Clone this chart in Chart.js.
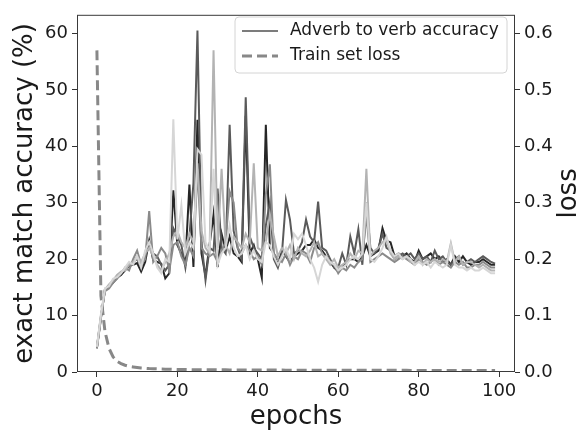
<!DOCTYPE html>
<html>
<head>
<meta charset="utf-8">
<script src="https://cdn.jsdelivr.net/npm/chart.js@4/dist/chart.umd.min.js"></script>
<style>
  html, body { margin: 0; padding: 0; background: #fff; }
  #chart { display: block; }
</style>
</head>
<body>
<canvas id="chart" width="583" height="430"></canvas>
<script>
'use strict';

// epochs 0..99
var epochs = [];
for (var e = 0; e < 100; e++) { epochs.push(e); }

var xTicks = [0, 20, 40, 60, 80, 100];
var accTicks = [0, 10, 20, 30, 40, 50, 60];
var lossTicks = [0.0, 0.1, 0.2, 0.3, 0.4, 0.5, 0.6];

// five runs of adverb-to-verb accuracy, lightest run first
var runA = [
  4.5, 10.2, 14.8, 15.2, 16.5, 16.8, 17.5, 18.5, 19.5, 19.0, 20.5, 18.5, 21.5, 23.0, 21.0, 18.5, 17.5, 20.0, 19.5, 44.8,
  23.5, 29.5, 21.0, 23.0, 22.0, 39.5, 38.5, 23.0, 21.5, 36.0, 19.0, 21.0, 22.0, 26.0, 22.0, 20.5, 21.0, 22.5, 20.0, 21.5,
  20.0, 19.5, 23.0, 22.5, 20.5, 19.0, 20.5, 22.0, 20.0, 24.5, 23.5, 24.5, 22.5, 20.0, 18.5, 16.0, 19.0, 20.5, 19.5, 19.0,
  18.0, 18.5, 19.0, 20.0, 20.5, 20.0, 21.0, 30.0, 20.0, 19.5, 20.5, 22.0, 24.0, 21.5, 20.5, 21.0, 20.0, 20.5, 20.0, 19.0,
  19.5, 19.0, 19.5, 18.5, 19.5, 19.0, 18.5, 19.0, 22.5, 19.0, 18.5, 18.5, 18.0, 18.5, 18.0, 18.0, 18.5, 18.0, 17.5, 17.5
];
var runB = [
  4.3, 9.6, 14.6, 15.5, 16.2, 17.2, 17.8, 18.0, 19.0, 19.5, 20.5, 19.5, 21.0, 22.0, 20.5, 19.0, 18.0, 19.5, 21.0, 24.0,
  25.0, 23.0, 22.0, 24.5, 23.0, 37.0, 25.0, 22.0, 21.0, 57.0, 22.0, 36.0, 22.5, 21.0, 24.0, 23.0, 22.0, 24.5, 23.0, 37.0,
  22.0, 21.5, 23.0, 28.0, 24.0, 20.5, 22.0, 21.0, 22.5, 20.0, 22.0, 21.0, 20.5, 21.5, 23.0, 20.5, 21.0, 20.0, 19.0, 20.0,
  18.5, 19.0, 19.5, 21.0, 20.0, 21.5, 21.0, 36.0, 20.5, 21.5, 22.0, 23.0, 23.5, 21.0, 20.0, 20.5, 20.0, 20.5, 19.5, 19.5,
  20.5, 19.0, 20.0, 19.5, 20.0, 19.5, 20.0, 19.5, 22.8, 19.5, 20.5, 19.0, 19.5, 19.5, 19.0, 18.5, 19.0, 18.5, 18.0, 18.0
];
var runC = [
  4.4, 10.0, 14.3, 14.8, 15.8, 16.5, 17.5, 18.5, 18.0, 20.0, 21.5, 19.0, 20.0, 28.5, 19.5, 20.5, 22.0, 21.0, 18.0, 22.5,
  23.0, 20.5, 19.0, 22.0, 20.5, 36.0, 22.0, 21.0, 20.5, 21.0, 19.5, 21.5, 23.0, 32.0, 30.0, 22.0, 21.0, 22.5, 21.5, 20.0,
  20.5, 19.0, 31.5, 36.8, 21.0, 20.0, 19.5, 21.0, 19.0, 20.5, 20.0, 21.5, 21.0, 19.5, 22.0, 23.0, 21.0, 20.0, 19.5, 19.0,
  17.5, 18.5, 18.0, 19.0, 18.5, 19.5, 20.0, 28.0, 19.5, 20.0, 20.5, 21.0, 20.5, 20.0, 19.5, 20.0, 20.5, 20.0, 19.5, 19.0,
  20.0, 19.5, 19.0, 19.5, 20.0, 19.0, 19.5, 19.0, 18.5, 19.5, 19.0, 19.5, 18.5, 18.5, 19.0, 19.0, 19.5, 19.0, 18.5, 18.5
];
var runD = [
  4.3, 9.8, 14.5, 15.0, 16.0, 17.0, 17.5, 18.2, 19.0, 19.5, 20.0, 18.5, 20.5, 22.5, 21.0, 20.5, 19.0, 18.0, 19.0, 25.5,
  24.0, 22.5, 18.5, 24.0, 33.5, 60.5, 23.0, 16.3, 22.0, 21.5, 32.5, 22.0, 21.0, 43.8, 25.0, 22.0, 20.0, 48.7, 24.0, 22.0,
  21.0, 20.0, 26.0, 30.0, 20.0, 18.5, 21.0, 30.5, 27.0, 21.0, 21.5, 23.0, 27.0, 24.0, 23.0, 30.2, 22.0, 21.5, 20.0, 18.5,
  18.5, 21.0, 19.0, 24.0, 21.0, 25.3, 19.0, 30.0, 22.0, 21.0, 22.0, 24.5, 22.0, 21.5, 20.0, 20.5, 21.0, 20.5, 21.0, 20.0,
  21.0, 20.0, 20.5, 19.5, 21.5, 20.0, 20.5, 19.5, 19.0, 20.0, 20.5, 19.0, 19.5, 20.0, 19.5, 20.0, 20.5, 20.0, 19.5, 19.2
];
var runE = [
  4.2, 9.5, 14.7, 15.3, 15.8, 16.7, 17.2, 18.0, 18.8, 19.0, 19.3, 17.8, 19.5, 23.3, 19.8, 19.5, 19.2, 16.6, 17.5, 32.2,
  22.5, 21.0, 19.5, 33.2, 18.6, 44.7, 21.0, 17.0, 22.5, 28.0, 18.6, 24.5, 21.5, 24.0, 21.0, 20.5, 19.5, 45.4, 21.0, 22.5,
  20.0, 16.7, 43.8, 22.0, 21.0, 19.0, 21.5, 20.5, 19.5, 20.5, 21.0, 21.5, 22.5, 22.5, 23.5, 22.0, 21.5, 20.5, 19.5, 18.5,
  17.8, 18.5, 19.5, 20.0, 20.0, 19.5, 20.5, 22.5, 20.5, 21.0, 21.5, 25.5, 23.2, 23.0, 20.5, 21.0, 20.5, 21.0, 20.0, 19.5,
  21.5, 20.0, 20.5, 21.0, 20.0, 20.5, 19.5, 20.0, 19.0, 20.5, 19.5, 20.5, 19.5, 19.0, 19.5, 19.5, 20.0, 19.5, 19.0, 19.0
];

// training loss per epoch
var trainLoss = [
  0.570, 0.135, 0.072, 0.042, 0.027, 0.019, 0.015, 0.012, 0.010, 0.009, 0.008, 0.007, 0.0065, 0.006, 0.0058, 0.0055, 0.0052, 0.005, 0.0048, 0.0046,
  0.0045, 0.0044, 0.0043, 0.0042, 0.0041, 0.004, 0.004, 0.004, 0.0039, 0.0039, 0.0038, 0.0038, 0.0038, 0.0037, 0.0037, 0.0037, 0.0036, 0.0036, 0.0036, 0.0035,
  0.0035, 0.0035, 0.0035, 0.0034, 0.0034, 0.0034, 0.0034, 0.0033, 0.0033, 0.0033, 0.0033, 0.0033, 0.0032, 0.0032, 0.0032, 0.0032, 0.0032, 0.0031, 0.0031, 0.0031,
  0.0031, 0.0031, 0.0031, 0.003, 0.003, 0.003, 0.003, 0.003, 0.003, 0.003, 0.0029, 0.0029, 0.0029, 0.0029, 0.0029, 0.0029, 0.0029, 0.0029, 0.0028, 0.0028,
  0.0028, 0.0028, 0.0028, 0.0028, 0.0028, 0.0028, 0.0027, 0.0027, 0.0027, 0.0027, 0.0027, 0.0027, 0.0027, 0.0027, 0.0027, 0.0026, 0.0026, 0.0026, 0.0026, 0.0026
];

var runs = [runA, runB, runC, runD, runE];
var runColors = ['#d6d6d6', '#b3b3b3', '#8a8a8a', '#5a5a5a', '#262626'];

var FONT = "'DejaVu Sans', sans-serif";
var INK = '#1a1a1a';
var LOSS_DASH = [10, 5];

function points(values) {
    return values.map(function (v, i) { return { x: epochs[i], y: v }; });
}

var datasets = runs.map(function (r, i) {
    return {
        data: points(r),
        yAxisID: 'acc',
        borderColor: runColors[i],
        borderWidth: 2,
        pointRadius: 0,
        tension: 0,
        fill: false
    };
});
datasets.push({
    data: points(trainLoss),
    yAxisID: 'loss',
    borderColor: '#888888',
    borderWidth: 3,
    borderDash: LOSS_DASH,
    pointRadius: 0,
    tension: 0,
    fill: false
});

function fixedTicks(list) {
    return function (scale) {
        scale.ticks = list.map(function (v) { return { value: v }; });
    };
}

// box around the plot, the rotated right label and the legend
var decorations = {
    id: 'decorations',
    afterDraw: function (chart) {
        var ctx = chart.ctx;
        var a = chart.chartArea;
        ctx.save();

        ctx.strokeStyle = '#3a3a3a';
        ctx.lineWidth = 1;
        ctx.strokeRect(a.left + 0.5, a.top + 0.5, a.right - a.left - 1, a.bottom - a.top - 1);

        ctx.fillStyle = INK;
        ctx.font = '26px ' + FONT;
        ctx.textAlign = 'center';
        ctx.textBaseline = 'middle';
        ctx.translate(569, (a.top + a.bottom) / 2);
        ctx.rotate(-Math.PI / 2);
        ctx.fillText('loss', 0, 0);
        ctx.setTransform(1, 0, 0, 1, 0, 0);

        // legend
        var bx = 235, by = 17, bw = 272, bh = 56, r = 4;
        ctx.beginPath();
        ctx.moveTo(bx + r, by);
        ctx.arcTo(bx + bw, by, bx + bw, by + bh, r);
        ctx.arcTo(bx + bw, by + bh, bx, by + bh, r);
        ctx.arcTo(bx, by + bh, bx, by, r);
        ctx.arcTo(bx, by, bx + bw, by, r);
        ctx.closePath();
        ctx.fillStyle = 'rgba(255,255,255,0.85)';
        ctx.fill();
        ctx.strokeStyle = '#d4d4d4';
        ctx.stroke();

        ctx.lineCap = 'butt';
        ctx.strokeStyle = '#7c7c7c';
        ctx.lineWidth = 2;
        ctx.beginPath();
        ctx.moveTo(242, 31);
        ctx.lineTo(278, 31);
        ctx.stroke();

        ctx.strokeStyle = '#888888';
        ctx.lineWidth = 3;
        ctx.setLineDash(LOSS_DASH);
        ctx.beginPath();
        ctx.moveTo(242, 56);
        ctx.lineTo(278, 56);
        ctx.stroke();
        ctx.setLineDash([]);

        ctx.fillStyle = INK;
        ctx.font = '17px ' + FONT;
        ctx.textAlign = 'left';
        ctx.textBaseline = 'middle';
        ctx.fillText('Adverb to verb accuracy', 290, 31);
        ctx.fillText('Train set loss', 290, 56);

        ctx.restore();
    }
};

var tickGrid = {
    display: true,
    drawOnChartArea: false,
    drawTicks: true,
    tickLength: 5,
    tickWidth: 1,
    tickColor: '#333'
};

new Chart(document.getElementById('chart'), {
    type: 'line',
    data: { datasets: datasets },
    plugins: [decorations],
    options: {
        responsive: false,
        animation: false,
        events: [],
        layout: { padding: { top: 8, left: 0, right: 0, bottom: 0 } },
        plugins: { legend: { display: false }, tooltip: { enabled: false } },
        scales: {
            x: {
                type: 'linear',
                min: -4.95,
                max: 103.95,
                afterBuildTicks: fixedTicks(xTicks),
                afterFit: function (s) { s.height = 58; },
                grid: tickGrid,
                border: { display: false },
                ticks: { color: INK, font: { family: FONT, size: 18 }, padding: 4, maxRotation: 0 },
                title: { display: true, text: 'epochs', color: INK, font: { family: FONT, size: 26, lineHeight: 1.0 }, padding: { top: 0, bottom: 0 } }
            },
            acc: {
                type: 'linear',
                position: 'left',
                min: 0,
                max: 63.3,
                afterBuildTicks: fixedTicks(accTicks),
                afterFit: function (s) { s.width = 77; },
                grid: tickGrid,
                border: { display: false },
                ticks: { color: INK, font: { family: FONT, size: 18 }, padding: 4 },
                title: { display: true, text: 'exact match accuracy (%)', color: INK, font: { family: FONT, size: 26 }, padding: { top: 10, bottom: 0 } }
            },
            loss: {
                type: 'linear',
                position: 'right',
                min: 0,
                max: 0.633,
                afterBuildTicks: fixedTicks(lossTicks),
                afterFit: function (s) { s.width = 68; },
                grid: tickGrid,
                border: { display: false },
                ticks: {
                    color: INK,
                    font: { family: FONT, size: 18 },
                    padding: 4,
                    callback: function (v) { return v.toFixed(1); }
                }
            }
        }
    }
});
</script>
</body>
</html>
